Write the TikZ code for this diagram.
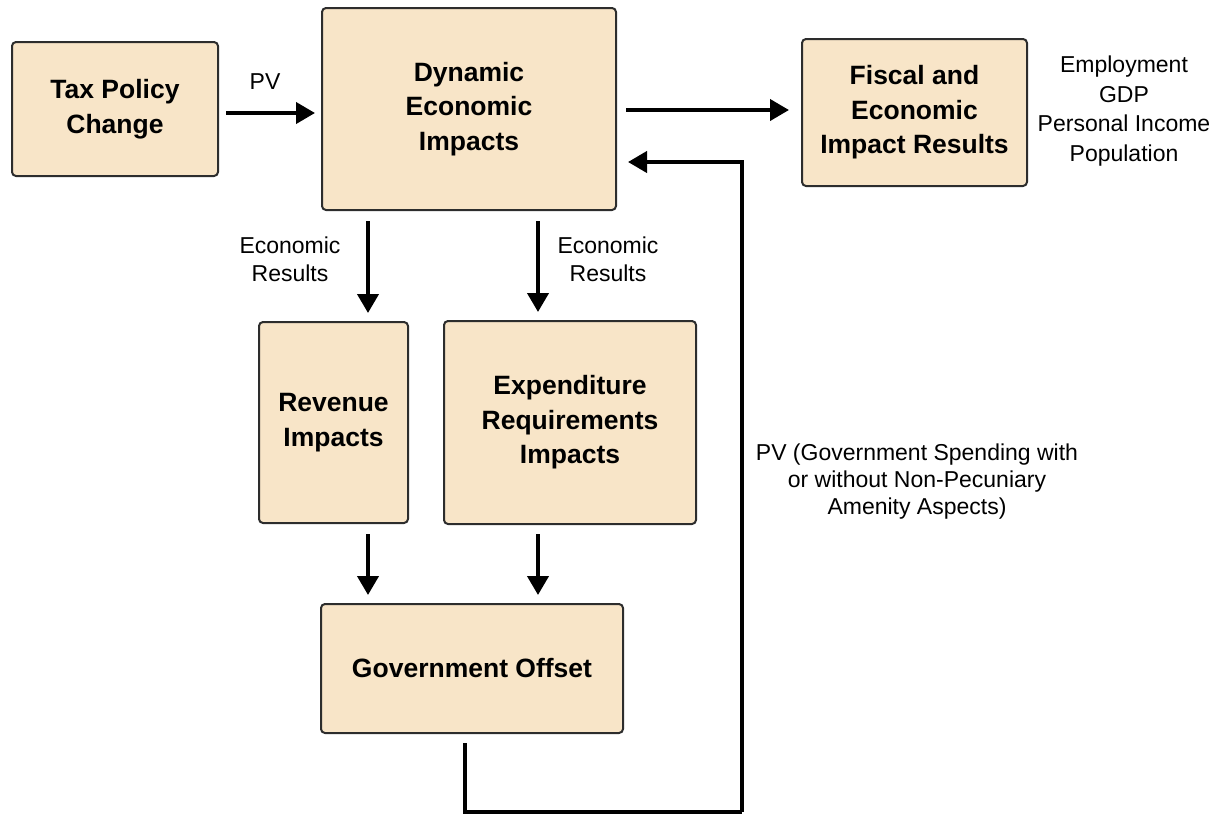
\documentclass[tikz,border=0pt]{standalone}
\usepackage{fontspec}
\setmainfont{Liberation Sans}
\usepackage{xcolor}
\usetikzlibrary{arrows.meta}
\definecolor{boxfill}{RGB}{248,229,200}
\definecolor{boxline}{RGB}{45,45,45}

\begin{document}
\begin{tikzpicture}[x=1pt,y=1pt,yscale=-1,xscale=1,
  procbox/.style={draw=boxline,fill=boxfill,line width=2pt,rounded corners=4pt,
    inner sep=0pt,align=center,font=\fontsize{26.5}{34.5}\selectfont\bfseries},
  lbl/.style={inner sep=0pt,align=center,font=\fontsize{23}{28}\selectfont},
  flow/.style={line width=4pt,-{Triangle[length=19pt,width=21pt]}},
  wire/.style={line width=4pt}]
\useasboundingbox (0,0) rectangle (1216,815);
% Boxes
\node [procbox,minimum width=206pt,minimum height=134pt] (tax) at (115,109) {Tax Policy\\Change};
\node [procbox,minimum width=294pt,minimum height=202pt] (dyn) at (469,109) {Dynamic\\Economic\\Impacts};
\node [procbox,minimum width=225pt,minimum height=147pt] (fisc) at (914.5,112.5) {Fiscal and\\Economic\\Impact Results};
\node [procbox,minimum width=149pt,minimum height=201pt] (rev) at (333.5,422.5) {Revenue\\Impacts};
\node [procbox,minimum width=252pt,minimum height=203pt] (exp) at (570,422.5) {Expenditure\\Requirements\\Impacts};
\node [procbox,minimum width=302pt,minimum height=129pt] (gov) at (472,668.5) {Government Offset};
% Text Node
\node [lbl] (pvtop) at (265,82) {PV};
% Text Node
\node [lbl] (econl) at (290,259) {Economic\\Results};
% Text Node
\node [lbl] (econr) at (608,259) {Economic\\Results};
% Text Node
\node [lbl,font=\fontsize{23}{29.5}\selectfont] (outs) at (1124,111) {Employment\\GDP\\Personal Income\\Population};
% Text Node
\node [lbl,font=\fontsize{23}{27}\selectfont] (pvgov) at (917,482) {PV (Government Spending with\\or without Non-Pecuniary\\Amenity Aspects)};
% Guide coordinates
\coordinate (xl) at (368,0);
\coordinate (xr) at (538,0);
\coordinate (xg) at (465,0);
\coordinate (xb) at (742,812);
\coordinate (yf) at (0,162);
% Arrows
\draw [flow,shorten <=7pt,shorten >=6pt] (tax.east |- 0,113) -- (dyn.west |- 0,113);
\draw [flow,shorten <=9pt,shorten >=12pt] (dyn.east |- 0,110) -- (fisc.west |- 0,110);
\draw [flow,shorten <=10pt,shorten >=8pt] (dyn.south -| xl) -- (rev.north -| xl);
\draw [flow,shorten <=10pt,shorten >=8pt] (dyn.south -| xr) -- (exp.north -| xr);
\draw [flow,shorten <=10pt,shorten >=8pt] (rev.south -| xl) -- (gov.north -| xl);
\draw [flow,shorten <=9pt,shorten >=8pt] (exp.south -| xr) -- (gov.north -| xr);
% Feedback loop
\draw [wire,shorten <=9pt] (gov.south -| xg) -- (xg |- xb) -- (xb);
\draw [flow,shorten >=11pt] (xb) -- (xb |- yf) -- (dyn.east |- yf);
\end{tikzpicture}
\end{document}
